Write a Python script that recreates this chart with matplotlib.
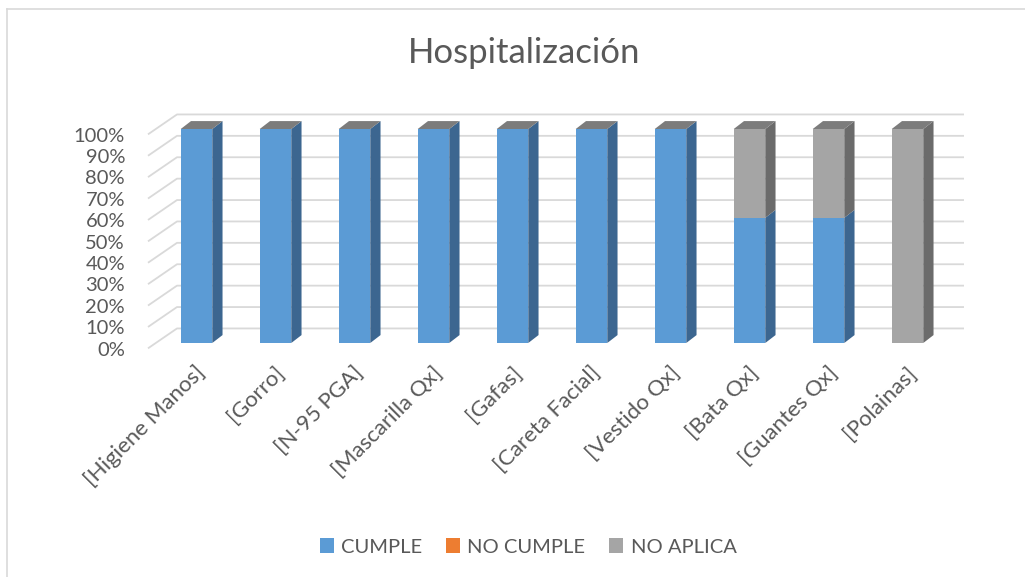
import matplotlib
matplotlib.use("Agg")
import matplotlib.pyplot as plt
from matplotlib.patches import Polygon, Rectangle, Patch
from matplotlib.lines import Line2D

categories = ["[Higiene Manos]", "[Gorro]", "[N-95 PGA]", "[Mascarilla Qx]", "[Gafas]",
              "[Careta Facial]", "[Vestido Qx]", "[Bata Qx]", "[Guantes Qx]", "[Polainas]"]
cumple = [100, 100, 100, 100, 100, 100, 100, 58.5, 58.5, 0]
no_cumple = [0, 0, 0, 0, 0, 0, 0, 0, 0, 0]
no_aplica = [0, 0, 0, 0, 0, 0, 0, 41.5, 41.5, 100]
series_names = ["CUMPLE", "NO CUMPLE", "NO APLICA"]
yticks = [0, 10, 20, 30, 40, 50, 60, 70, 80, 90, 100]

front_colors = ["#5B9BD5", "#ED7D31", "#A5A5A5"]
side_colors = ["#3C6690", "#A8561F", "#6B6B6B"]
top_colors = ["#4A80B3", "#C96A28", "#7C7C7C"]

plt.rcParams['font.family'] = ['Lato', 'DejaVu Sans']
text_color = "#595959"

W, H = 1025, 577
fig = plt.figure(figsize=(W / 100, H / 100), dpi=100)

# axes placement: pixel x = 196.5 + 79*x ; pixel y = 343 - 2.14*v
x0, x1 = -1.0, 10.0
y0, y1 = -10.0, 110.0
px_l = 196.5 + 79 * x0
px_r = 196.5 + 79 * x1
py_b = 343 - 2.14 * y0
py_t = 343 - 2.14 * y1
ax = fig.add_axes([px_l / W, 1 - py_b / H, (px_r - px_l) / W, (py_b - py_t) / H])
ax.set_xlim(x0, x1)
ax.set_ylim(y0, y1)
ax.axis("off")

grid_c = "#D9D9D9"
xf, xb, xr = -0.614, -0.247, 9.715
off_f, off_b = -2.5, 6.8
for v in yticks:
    ax.plot([xf, xb, xr], [v + off_f, v + off_b, v + off_b], color=grid_c, lw=1.3,
            solid_capstyle="butt", zorder=1)
    ax.text(-0.905, v - 3.3, f"{v}%", ha="right", va="center", fontsize=14.5,
            color=text_color)

w = 0.399
dx = 0.13
dy = 3.7
data = [cumple, no_cumple, no_aplica]
n = len(categories)
for i in range(n):
    bottom = 0
    for s in range(3):
        val = data[s][i]
        top = bottom + val
        xl, xrr = i - w / 2, i + w / 2
        if val > 0:
            ax.add_patch(Rectangle((xl, bottom), w, val, facecolor=front_colors[s],
                                   edgecolor="none", zorder=3))
            ax.add_patch(Polygon([(xrr, bottom), (xrr + dx, bottom + dy),
                                  (xrr + dx, top + dy), (xrr, top)],
                                 closed=True, facecolor=side_colors[s],
                                 edgecolor="none", zorder=3))
        if s == 2:
            ax.add_patch(Polygon([(xl, top), (xl + dx, top + dy),
                                  (xrr + dx, top + dy), (xrr, top)],
                                 closed=True, facecolor=top_colors[s],
                                 edgecolor="none", zorder=3))
        bottom = top
    ax.text(i - 0.02, -9.0, categories[i], rotation=45, rotation_mode="anchor",
            ha="right", va="top", fontsize=16, color=text_color)

fig.text(524 / W, 1 - 53 / H, "Hospitalización", ha="center", va="center",
         fontsize=25, color=text_color, fontweight="normal")

handles = [Patch(facecolor=c, edgecolor="none") for c in front_colors]
fig.legend(handles, series_names, loc="center", bbox_to_anchor=(528 / W, 1 - 547 / H),
           ncol=3, frameon=False, fontsize=14.5, labelcolor=text_color,
           handlelength=0.7, handleheight=0.7, handletextpad=0.35, columnspacing=1.2)

fig.add_artist(Line2D([7 / W, 7 / W], [0, 1 - 9 / H], color=grid_c, lw=1.2))
fig.add_artist(Line2D([7 / W, 1], [1 - 9 / H, 1 - 9 / H], color=grid_c, lw=1.2))

fig.savefig("out.png", dpi=100, facecolor="white")
